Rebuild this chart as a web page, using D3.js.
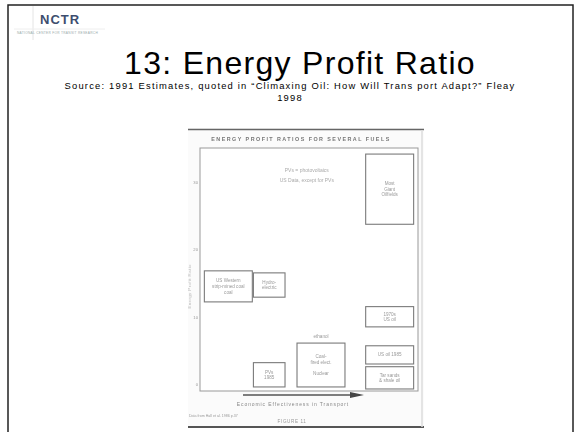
<!DOCTYPE html>
<html><head><meta charset="utf-8">
<script src="https://cdn.jsdelivr.net/npm/d3@7"></script>
<style>
html,body{margin:0;padding:0;background:#fff;}
svg{display:block;font-family:"Liberation Sans",Arial,sans-serif;}
</style></head>
<body>
<script>
// ---- data ----
const fuels = ["Most giant oilfields","US Western strip-mined coal","Hydro-electric","1970s US oil","US oil 1985","Tar sands & shale oil","Coal-fired elect. / Nuclear","PVs 1985"];
const boxLines = [["Most","Giant","Oilfields"],["US Western","strip-mined coal","coal"],["Hydro-","electric"],["1970s","US oil"],["US oil 1985"],["Tar sands","& shale oil"],["Coal-","fired elect.","","Nuclear"],["PVs","1985"]];
const eprHigh = [34.1, 16.8, 16.5, 11.5, 5.7, 2.6, 6.1, 3.2];
const eprLow  = [23.7, 12.2, 12.9, 8.5, 3.0, -0.7, -0.4, -0.4];
const effLow  = [7.6, 0.2, 2.45, 7.6, 7.6, 7.6, 4.45, 2.45];
const effHigh = [9.8, 2.4, 3.9, 9.8, 9.8, 9.8, 6.65, 3.9];
const yTicks = [0, 10, 20, 30];
const notes = ["PVs = photovoltaics", "US Data, except for PVs"];

const W = 581, H = 432;
const svg = d3.select("body").append("svg").attr("width", W).attr("height", H);

// slide border
svg.append("rect").attr("x",8).attr("y",5).attr("width",565).attr("height",440)
  .attr("fill","none").attr("stroke","#222").attr("stroke-width",1.5);

// NCTR logo
svg.append("line").attr("x1",33).attr("x2",33).attr("y1",6).attr("y2",40).attr("stroke","#e4e4e4");
svg.append("line").attr("x1",14).attr("x2",105).attr("y1",29).attr("y2",29).attr("stroke","#eee");
svg.append("text").attr("x",40).attr("y",24).attr("font-size",13).attr("font-weight","bold")
  .attr("fill","#3d4d6e").attr("letter-spacing",1).text("NCTR");
svg.append("text").attr("x",17).attr("y",34).attr("font-size",3.2).attr("fill","#9aa")
  .attr("letter-spacing",0.3).text("NATIONAL CENTER FOR TRANSIT RESEARCH");

// titles
svg.append("text").attr("x",300).attr("y",73.5).attr("text-anchor","middle").attr("font-size",32)
  .attr("letter-spacing",1.3).attr("fill","#000").text("13: Energy Profit Ratio");
svg.append("text").attr("x",290).attr("y",89).attr("text-anchor","middle").attr("font-size",9.4)
  .attr("letter-spacing",1.2).attr("fill","#000").text("Source: 1991 Estimates, quoted in \u201CClimaxing Oil: How Will Trans port Adapt?\u201D Fleay");
svg.append("text").attr("x",290).attr("y",101).attr("text-anchor","middle").attr("font-size",9.4)
  .attr("letter-spacing",1.2).attr("fill","#000").text("1998");

// scanned figure
const defs = svg.append("defs");
defs.append("filter").attr("id","blur").append("feGaussianBlur").attr("stdDeviation",0.45);
const fig = svg.append("g").attr("filter","url(#blur)");
fig.append("rect").attr("x",188).attr("y",128).attr("width",236).attr("height",300).attr("fill","#fbfbfb");
fig.append("line").attr("x1",188).attr("x2",424).attr("y1",129.5).attr("y2",129.5).attr("stroke","#666").attr("stroke-width",1.5);
fig.append("line").attr("x1",188).attr("x2",424).attr("y1",427).attr("y2",427).attr("stroke","#555").attr("stroke-width",1.8);
fig.append("line").attr("x1",422).attr("x2",422).attr("y1",130).attr("y2",427).attr("stroke","#ddd").attr("stroke-width",1.5);

const x = d3.scaleLinear().domain([0,10]).range([200,418]);
const y = d3.scaleLinear().domain([-1,35]).range([391,148]);

fig.append("text").attr("x",301).attr("y",141).attr("text-anchor","middle").attr("font-size",5.4)
  .attr("font-weight","bold").attr("letter-spacing",1.45).attr("fill","#777")
  .text("ENERGY PROFIT RATIOS FOR SEVERAL FUELS");

// frame
fig.append("rect").attr("x",x(0)).attr("y",y(35)).attr("width",x(10)-x(0)).attr("height",y(-1)-y(35))
  .attr("fill","#fff").attr("stroke","#999").attr("stroke-width",1);

// y axis
const yAxis = d3.axisLeft(y).tickValues(yTicks).tickSize(0).tickPadding(2).tickFormat(d3.format("d"));
const ga = fig.append("g").attr("transform",`translate(${x(0)},0)`).call(yAxis);
ga.select(".domain").remove();
ga.selectAll("text").attr("font-size",4.2).attr("fill","#999").attr("font-family","Liberation Sans, Arial");
fig.append("text").attr("transform",`translate(191,${y(14.5)}) rotate(-90)`).attr("text-anchor","middle")
  .attr("font-size",4.4).attr("fill","#bbb").attr("letter-spacing",0.4).text("Energy Profit Ratio");

// boxes
const boxes = fig.append("g").selectAll("g").data(fuels).join("g");
boxes.append("rect")
  .attr("x",(d,i)=>x(effLow[i])).attr("y",(d,i)=>y(eprHigh[i]))
  .attr("width",(d,i)=>x(effHigh[i])-x(effLow[i])).attr("height",(d,i)=>y(eprLow[i])-y(eprHigh[i]))
  .attr("fill","none").attr("stroke","#7a7a7a").attr("stroke-width",1.1);
boxes.each(function(d,i){
  const lines = boxLines[i];
  const cx = (x(effLow[i])+x(effHigh[i]))/2;
  const cy = (y(eprLow[i])+y(eprHigh[i]))/2;
  const lh = 5.6;
  const t0 = cy - (lines.length-1)*lh/2 + 1.6;
  d3.select(this).selectAll("text").data(lines).join("text")
    .attr("x",cx).attr("y",(l,j)=>t0+j*lh).attr("text-anchor","middle")
    .attr("font-size",4.6).attr("fill","#999").text(l=>l);
});

// notes
fig.selectAll("text.note").data(notes).join("text").attr("class","note")
  .attr("x",x(4.9)).attr("y",(d,i)=>172+i*9.5).attr("text-anchor","middle")
  .attr("font-size",5).attr("fill","#aaa").text(d=>d);
fig.append("text").attr("x",x(5.55)).attr("y",y(6.8)).attr("text-anchor","middle")
  .attr("font-size",4.6).attr("fill","#999").text("ethanol");

// arrow
fig.append("line").attr("x1",243).attr("x2",352).attr("y1",395).attr("y2",395).attr("stroke","#555").attr("stroke-width",1.6);
fig.append("path").attr("d","M350,392 L364,395 L350,398 Z").attr("fill","#444");
fig.append("text").attr("x",293).attr("y",406).attr("text-anchor","middle").attr("font-size",5)
  .attr("letter-spacing",0.9).attr("fill","#888").text("Economic Effectiveness in Transport");
fig.append("text").attr("x",189).attr("y",417).attr("font-size",3.6).attr("fill","#999")
  .text("Data from Hall et al. 1986 p.37");
fig.append("text").attr("x",292).attr("y",423).attr("text-anchor","middle").attr("font-size",4.6)
  .attr("letter-spacing",0.6).attr("fill","#999").text("FIGURE 11");
</script>
</body></html>
